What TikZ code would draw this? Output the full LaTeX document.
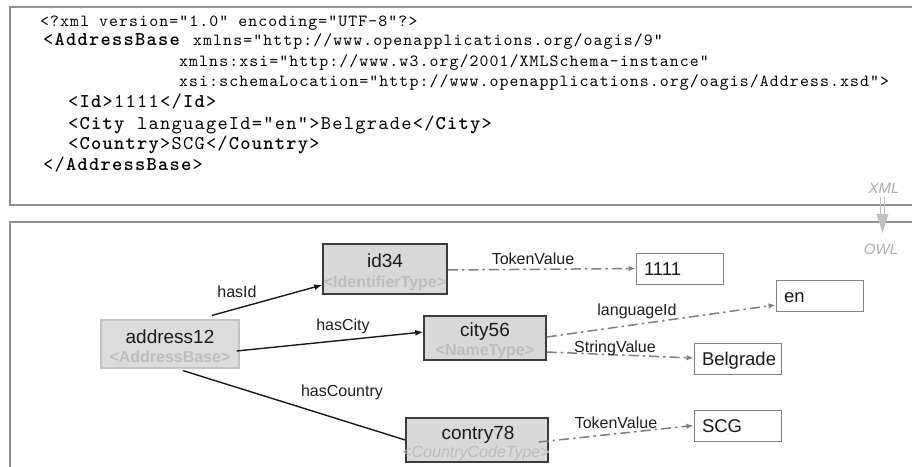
\documentclass[tikz,border=0pt]{standalone}
\usepackage{fontspec}
\setmainfont{Liberation Sans}
\newfontfamily\codefont{lmmono10-regular}[Extension=.otf, BoldFont=lmmonolt10-bold, LetterSpace=6.4]
\usetikzlibrary{arrows.meta,calc}

\definecolor{framec}{HTML}{909090}
\definecolor{boxfill}{HTML}{D9D9D9}
\definecolor{rootfill}{HTML}{DCDCDC}
\definecolor{boxline}{HTML}{3C3C3C}
\definecolor{rootline}{HTML}{C4C4C4}
\definecolor{titletext}{HTML}{1A1A1A}
\definecolor{typetext}{HTML}{BDBDBD}
\definecolor{valline}{HTML}{808080}
\definecolor{dashc}{HTML}{7F7F7F}
\definecolor{labeltext}{HTML}{1E1E1E}
\definecolor{stagec}{HTML}{C0C0C0}

\tikzset{
  frame/.style={draw=framec, line width=1.5pt},
  codesm/.style={font=\codefont\fontsize{17}{20}\selectfont, anchor=base west, inner sep=0pt},
  codelg/.style={font=\codefont\fontsize{19.5}{22}\selectfont, anchor=base west, inner sep=0pt},
  objbox/.style={draw=boxline, fill=boxfill, line width=1.5pt, inner sep=0pt},
  rootbox/.style={draw=rootline, fill=rootfill, line width=1.2pt, inner sep=0pt},
  objtitle/.style={font=\fontsize{19}{22}\selectfont, text=titletext, anchor=base, inner sep=0pt},
  objtype/.style={font=\fontsize{16}{19}\selectfont\bfseries, text=typetext, anchor=base, inner sep=0pt},
  valbox/.style={draw=valline, fill=white, line width=1pt, inner xsep=8pt, inner ysep=0pt,
    text width=71pt, minimum height=31pt, align=left, text height=13pt, text depth=0pt,
    font=\fontsize{18.5}{21}\selectfont, text=titletext},
  rel/.style={draw=titletext, line width=1.4pt},
  relarrow/.style={rel, -{Latex[length=8pt,width=6pt]}},
  dataline/.style={draw=dashc, line width=1.5pt, dash pattern=on 10pt off 4pt on 2.5pt off 4pt,
    -{Latex[length=7pt,width=5.5pt]}},
  lbl/.style={font=\fontsize{16}{18}\selectfont, text=labeltext, inner sep=0pt},
  stage/.style={font=\fontsize{15}{17}\selectfont\itshape, text=stagec!90!black, inner sep=0pt},
}

\begin{document}
\begin{tikzpicture}[x=1pt,y=-1pt]
\useasboundingbox (0,0) rectangle (912,466);
\fill[white] (0,0) rectangle (912,466);

% panel frames, open towards the right and bottom edges
\begin{scope}
  \clip (0,0) rectangle (912,466);
  \draw[frame] (920,7) -- (10,7) -- (10,205) -- (920,205);
  \draw[frame] (920,222) -- (10,222) -- (10,475);
\end{scope}

% XML source
\node[codesm] (l1)  at (40,26)    {<?xml version="1.0" encoding="UTF-8"?>};
\node[codelg] (l2a) at (43,45.5)  {<\textbf{AddressBase}};
\node[codesm] (l2b) at (193,45.5) {xmlns="http://www.openapplications.org/oagis/9"};
\node[codesm] (l3)  at (179,66)   {xmlns:xsi="http://www.w3.org/2001/XMLSchema-instance"};
\node[codesm] (l4)  at (179,86)   {xsi:schemaLocation="http://www.openapplications.org/oagis/Address.xsd">};
\node[codelg] (l5)  at (68,107)   {<\textbf{Id}>1111</\textbf{Id}>};
\node[codelg] (l6)  at (68,129)   {<\textbf{City} languageId=“en”>Belgrade</\textbf{City}>};
\node[codelg] (l7)  at (68,149)   {<\textbf{Country}>SCG</\textbf{Country}>};
\node[codelg] (l8)  at (43,170.5) {</\textbf{AddressBase}>};

% XML -> OWL transition marker
\node[stage] (xmltag) at (884,188) {XML};
\node[stage] (owltag) at (881,249) {OWL};
\draw[stagec, line width=0.9pt] (880.5,197) -- (880.5,217) (884.5,197) -- (884.5,217);
\fill[stagec] (876.5,214) -- (888.5,214) -- (882.5,233) -- cycle;

% individuals
\node[rootbox, minimum width=138pt, minimum height=48pt] (address12) at (170,344) {};
\node[objtitle] (address12t) at (170,343) {address12};
\node[objtype]  (address12c) at (170,362.7) {<AddressBase>};

\node[objbox, minimum width=124pt, minimum height=50pt] (id34) at (385,269) {};
\node[objtitle] (id34t) at (385,267) {id34};
\node[objtype]  (id34c) at (385,287.7) {<IdentifierType>};

\node[objbox, minimum width=122pt, minimum height=44pt] (city56) at (485,338) {};
\node[objtitle] (city56t) at (485,336) {city56};
\node[objtype]  (city56c) at (485,355.7) {<NameType>};

\node[objbox, minimum width=142pt, minimum height=44pt] (contry78) at (477,440) {};
\node[objtitle] (contry78t) at (478,439) {contry78};
\node[objtype, font=\fontsize{16}{19}\selectfont\itshape] (contry78c) at (476,457.7) {<CountryCodeType>};

% literal values
\node[valbox] (v1111) at (679.5,268.5) {1111};
\node[valbox] (ven)   at (819.5,296)   {en};
\node[valbox] (vbelg) at (737.5,359)   {Belgrade};
\node[valbox] (vscg)  at (737.5,425.5) {SCG};

% object properties
\draw[relarrow] ($(address12.north)+(42,-4)$) -- ($(id34.west)+(0,16)$);
\draw[relarrow] ($(address12.east)+(-3,7)$) -- ($(city56.west)+(0,-6)$);
\draw[rel] ($(address12.south)+(13,2)$) -- (contry78.west);

% datatype properties
\draw[dataline] ($(id34.east)+(0,1)$) -- (v1111.west);
\draw[dataline] ($(city56.east)+(0,-1)$) -- ($(ven.west)+(0,9)$);
\draw[dataline] ($(city56.east)+(0,14)$) -- ($(vbelg.west)+(0,-1)$);
\draw[dataline] ($(contry78.east)+(-10,2)$) -- (vscg.west);

% property labels
\node[lbl] (lhasid)      at (237,292) {hasId};
\node[lbl] (lhascity)    at (343,326) {hasCity};
\node[lbl] (lhascountry) at (342,392) {hasCountry};
\node[lbl] (ltoken1)     at (533,259) {TokenValue};
\node[lbl] (llang)       at (637,311) {languageId};
\node[lbl] (lstring)     at (615,348) {StringValue};
\node[lbl] (ltoken2)     at (616,423) {TokenValue};
\end{tikzpicture}
\end{document}
